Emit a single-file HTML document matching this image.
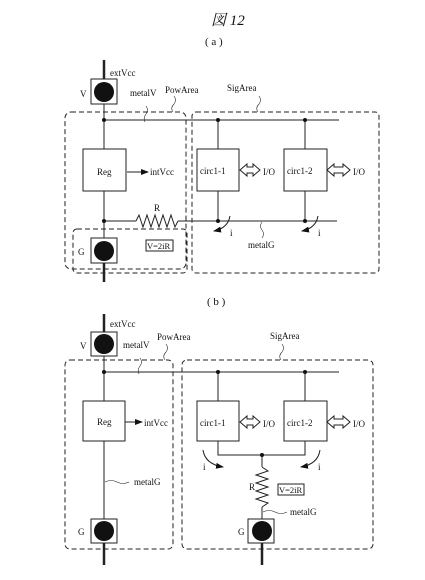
<!DOCTYPE html>
<html><head><meta charset="utf-8"><style>
html,body{margin:0;padding:0;background:#fff;}
svg{display:block;}
text{font-family:"Liberation Serif","Noto Serif CJK SC",serif;fill:#111;}
</style></head><body>
<svg width="425" height="580" viewBox="0 0 425 580" xmlns="http://www.w3.org/2000/svg">
<defs>
<marker id="ah" markerWidth="8" markerHeight="6" refX="7" refY="3" orient="auto" markerUnits="userSpaceOnUse">
<path d="M0,0 L8,3 L0,6 Z" fill="#111"/></marker>
</defs>
<text x="211" y="25" font-size="15" font-style="italic" font-family="'Noto Serif CJK JP',serif">図 12</text>
<text x="205" y="45" font-size="11">( a )</text>
<text x="207" y="305" font-size="11">( b )</text>

<g stroke="#222" fill="none" stroke-width="1">
<!-- ===== (a) ===== -->
<rect x="65" y="112" width="121" height="157" rx="6" stroke-dasharray="5,3"/>
<rect x="192" y="112" width="187" height="161" rx="4" stroke-dasharray="5,3"/>
<rect x="73" y="229" width="114" height="44" rx="4" stroke-dasharray="5,3"/>
<line x1="104" y1="60" x2="104" y2="79" stroke-width="2.5"/>
<line x1="104" y1="104" x2="104" y2="149"/>
<line x1="104" y1="191" x2="104" y2="238"/>
<line x1="104" y1="263" x2="104" y2="282" stroke-width="2.5"/>
<rect x="91" y="79" width="26" height="25"/>
<rect x="91" y="238" width="26" height="25"/>
<line x1="104" y1="120" x2="339" y2="120"/>
<line x1="104" y1="221" x2="136" y2="221"/>
<polyline points="136,221 139,215 143,227 147,215 151,227 155,215 159,227 163,215 167,227 171,215 175,227 178,221"/>
<line x1="178" y1="221" x2="337" y2="221"/>
<rect x="83" y="149" width="43" height="42"/>
<rect x="197" y="149" width="42" height="42"/>
<rect x="284" y="149" width="43" height="42"/>
<line x1="218" y1="120" x2="218" y2="149"/>
<line x1="218" y1="191" x2="218" y2="221"/>
<line x1="305" y1="120" x2="305" y2="149"/>
<line x1="305" y1="191" x2="305" y2="221"/>
<line x1="127" y1="172" x2="148" y2="172" marker-end="url(#ah)"/>
<rect x="146" y="240" width="27" height="11"/>
<path d="M230,216 Q228,228 214,231" marker-end="url(#ah)"/>
<path d="M318,216 Q316,228 302,231" marker-end="url(#ah)"/>
<path d="M145,122 q-2,-4 1,-8 q3,-4 0,-8" stroke-width="0.6"/>
<path d="M173,112 q-3,-4 1,-8 q3,-4 0,-8" stroke-width="0.6"/>
<path d="M258,112 q-3,-4 1,-8 q3,-4 0,-8" stroke-width="0.6"/>
<path d="M262,222 q-3,4 0,8 q3,4 0,8" stroke-width="0.6"/>
<!-- ===== (b) ===== -->
<rect x="65" y="360" width="108" height="189" rx="5" stroke-dasharray="5,3"/>
<rect x="182" y="360" width="191" height="189" rx="5" stroke-dasharray="5,3"/>
<line x1="104" y1="314" x2="104" y2="332" stroke-width="2.5"/>
<line x1="104" y1="356" x2="104" y2="401"/>
<line x1="104" y1="441" x2="104" y2="519"/>
<line x1="104" y1="543" x2="104" y2="565" stroke-width="2.5"/>
<rect x="91" y="332" width="26" height="24"/>
<rect x="91" y="519" width="26" height="24"/>
<line x1="104" y1="372" x2="339" y2="372"/>
<rect x="83" y="401" width="42" height="40"/>
<rect x="197" y="401" width="42" height="40"/>
<rect x="284" y="401" width="43" height="40"/>
<line x1="218" y1="372" x2="218" y2="401"/>
<line x1="305" y1="372" x2="305" y2="401"/>
<polyline points="218,441 218,455 305,455 305,441"/>
<line x1="262" y1="455" x2="262" y2="467"/>
<polyline points="262,467 268,471 256,475 268,479 256,483 268,487 256,491 268,495 256,499 268,503 262,507"/>
<line x1="262" y1="507" x2="262" y2="519"/>
<rect x="248" y="519" width="26" height="24"/>
<line x1="262" y1="543" x2="262" y2="565" stroke-width="2.5"/>
<line x1="125" y1="422" x2="142" y2="422" marker-end="url(#ah)"/>
<rect x="278" y="484" width="26" height="11"/>
<path d="M203,450 Q205,464 223,467" marker-end="url(#ah)"/>
<path d="M320,450 Q318,464 301,467" marker-end="url(#ah)"/>
<path d="M139,374 q-2,-4 1,-8 q3,-4 0,-8" stroke-width="0.6"/>
<path d="M165,360 q-3,-4 1,-8 q3,-4 0,-8" stroke-width="0.6"/>
<path d="M281,360 q-3,-4 1,-8 q3,-4 0,-8" stroke-width="0.6"/>
<path d="M105,482 q6,-3 12,0 q6,3 12,0" stroke-width="0.6"/>
<path d="M263,512 q6,-3 12,0 q6,3 12,0" stroke-width="0.6"/>
</g>

<!-- double arrows -->
<g stroke="#222" fill="#fff" stroke-width="1">
<path d="M240,170 l7,-6 v3 h6 v-3 l7,6 l-7,6 v-3 h-6 v3 z"/>
<path d="M327,170 l7,-6 v3 h9 v-3 l7,6 l-7,6 v-3 h-9 v3 z"/>
<path d="M240,422 l7,-6 v3 h6 v-3 l7,6 l-7,6 v-3 h-6 v3 z"/>
<path d="M327,422 l7,-6 v3 h9 v-3 l7,6 l-7,6 v-3 h-9 v3 z"/>
</g>

<!-- dots and pads -->
<g fill="#111">
<circle cx="104" cy="92" r="10"/><circle cx="104" cy="251" r="10"/>
<circle cx="104" cy="120" r="2"/><circle cx="218" cy="120" r="2"/><circle cx="305" cy="120" r="2"/>
<circle cx="104" cy="221" r="2"/><circle cx="218" cy="221" r="2"/><circle cx="305" cy="221" r="2"/>
<circle cx="104" cy="344" r="10"/><circle cx="104" cy="531" r="10"/><circle cx="262" cy="531" r="10"/>
<circle cx="104" cy="372" r="2"/><circle cx="218" cy="372" r="2"/><circle cx="305" cy="372" r="2"/>
<circle cx="262" cy="455" r="2"/>
</g>

<g font-size="9">
<text x="110" y="76">extVcc</text>
<text x="80" y="97">V</text>
<text x="130" y="96">metalV</text>
<text x="165" y="93">PowArea</text>
<text x="227" y="91">SigArea</text>
<text x="97" y="175">Reg</text>
<text x="150" y="175">intVcc</text>
<text x="200" y="174">circ1-1</text>
<text x="287" y="174">circ1-2</text>
<text x="263" y="175">I/O</text>
<text x="353" y="175">I/O</text>
<text x="154" y="211">R</text>
<text x="230" y="236">i</text>
<text x="318" y="236">i</text>
<text x="147" y="249" font-size="8.5">V=2iR</text>
<text x="78" y="255">G</text>
<text x="248" y="248">metalG</text>

<text x="110" y="327">extVcc</text>
<text x="80" y="349">V</text>
<text x="123" y="348">metalV</text>
<text x="157" y="340">PowArea</text>
<text x="270" y="339">SigArea</text>
<text x="97" y="425">Reg</text>
<text x="144" y="426">intVcc</text>
<text x="200" y="426">circ1-1</text>
<text x="287" y="426">circ1-2</text>
<text x="263" y="427">I/O</text>
<text x="353" y="427">I/O</text>
<text x="203" y="470">i</text>
<text x="318" y="470">i</text>
<text x="249" y="490">R</text>
<text x="279" y="493" font-size="8.5">V=2iR</text>
<text x="134" y="485">metalG</text>
<text x="290" y="515">metalG</text>
<text x="78" y="535">G</text>
<text x="238" y="535">G</text>
</g>
</svg>
</body></html>
